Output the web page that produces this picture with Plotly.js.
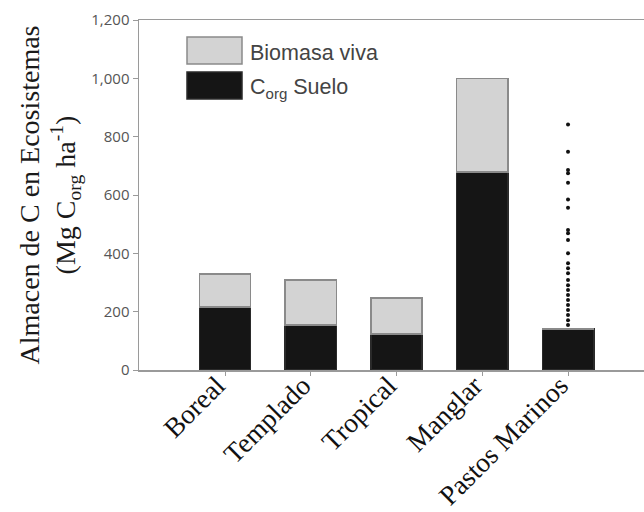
<!DOCTYPE html>
<html>
<head>
<meta charset="utf-8">
<script src="https://cdn.plot.ly/plotly-3.0.1.min.js"></script>
<style>html,body{margin:0;padding:0;background:#fff;}#chart{width:644px;height:512px;}</style>
</head>
<body>
<div id="chart"></div>
<script>
// Data
const categories = ["Boreal", "Templado", "Tropical", "Manglar", "Pastos Marinos"];
const sueloValues = [216, 154, 123, 679, 141];
const biomasaValues = [113, 155, 124, 321, 0];
const pastosPoints = [842, 748, 686, 675, 642, 585, 556, 480, 469, 446, 400, 366, 349, 332, 309, 291, 274, 257, 240, 223, 206, 189, 171, 154];
const yTicks = [0, 200, 400, 600, 800, 1000, 1200];
const legendLabels = ["Biomasa viva", "C<sub>org</sub> Suelo"];

const L = 139, R = 644, T = 20, B = 370;
const px = v => (v - L) / (R - L);
const py = v => (B - v) / (B - T);

const traces = [
  {
    type: "bar", x: categories, y: sueloValues, width: 0.6, name: "Corg Suelo",
    marker: {color: "#151515", line: {color: "#2a2a2a", width: 1.5}},
    hoverinfo: "skip", showlegend: false
  },
  {
    type: "bar", x: categories, y: biomasaValues, width: 0.6, name: "Biomasa viva",
    marker: {color: "#d3d3d3", line: {color: "#8a8a8a", width: 1.5}},
    hoverinfo: "skip", showlegend: false
  },
  {
    type: "scatter", mode: "markers",
    x: pastosPoints.map(() => categories[4]), y: pastosPoints,
    marker: {color: "#111", size: 4}, showlegend: false, hoverinfo: "skip"
  }
];

const layout = {
  width: 644, height: 512,
  margin: {l: L, r: 644 - R, t: T, b: 512 - B, pad: 0},
  paper_bgcolor: "#fff", plot_bgcolor: "#fff",
  barmode: "stack",
  showlegend: false,
  xaxis: {
    type: "category", range: [-1.003, 4.886],
    showline: true, mirror: true, linecolor: "#9a9a9a", linewidth: 1.5,
    ticks: "outside", ticklen: 4, tickcolor: "#9a9a9a",
    tickangle: -45, showgrid: false, zeroline: false,
    ticklabelstandoff: -17, ticklabelshift: -8,
    tickfont: {family: "Liberation Serif, Times New Roman, serif", size: 27.5, color: "#111"}
  },
  yaxis: {
    range: [0, 1200], tickvals: yTicks, tickformat: ",",
    showline: true, linecolor: "#9a9a9a", linewidth: 1.5,
    ticks: "outside", ticklen: 5, tickcolor: "#9a9a9a",
    showgrid: false, zeroline: false,
    tickfont: {family: "Open Sans, sans-serif", size: 15, color: "#555"},
    title: {
      text: "Almacen de C en Ecosistemas<br>(Mg C<sub>org</sub> ha<sup>-1</sup>)",
      font: {family: "Liberation Serif, Times New Roman, serif", size: 28, color: "#1a1a1a"},
      standoff: 7
    },
    automargin: false
  },
  shapes: [
    {type: "rect", xref: "paper", yref: "paper", x0: px(187), x1: px(242), y0: py(64), y1: py(37),
     fillcolor: "#d3d3d3", line: {color: "#8a8a8a", width: 1.5}},
    {type: "rect", xref: "paper", yref: "paper", x0: px(187), x1: px(242), y0: py(99), y1: py(72),
     fillcolor: "#151515", line: {color: "#2a2a2a", width: 1.5}}
  ],
  annotations: [
    {xref: "paper", yref: "paper", x: px(248), y: py(53), xanchor: "left", yanchor: "middle",
     text: legendLabels[0], showarrow: false,
     font: {family: "Liberation Sans, Arial, sans-serif", size: 21.5, color: "#444"}},
    {xref: "paper", yref: "paper", x: px(248), y: py(88), xanchor: "left", yanchor: "middle",
     text: legendLabels[1], showarrow: false,
     font: {family: "Liberation Sans, Arial, sans-serif", size: 21.5, color: "#444"}}
  ]
};

Plotly.newPlot("chart", traces, layout, {staticPlot: true, displayModeBar: false});
</script>
</body>
</html>
